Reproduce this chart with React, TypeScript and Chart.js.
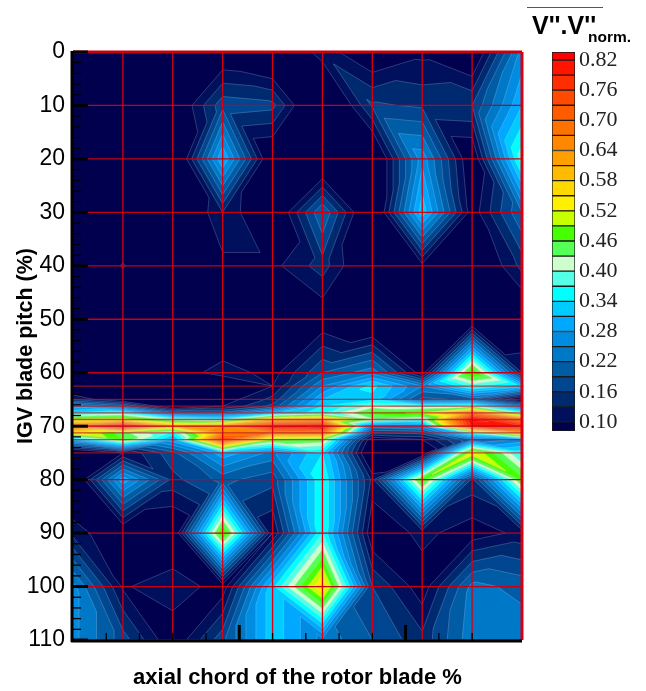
import React, { useEffect, useRef } from "react";
import { Chart, registerables } from "chart.js";

Chart.register(...registerables);

const chordCols = [0, 15, 30, 45, 60, 75, 90, 105, 120, 135];
const pitchRows = [0, 10, 20, 30, 40, 50, 60, 62.5, 65, 66.25, 67.5, 68.75, 70, 71.25, 72.5, 75, 80, 90, 100, 110];

const col0 = [.03, .03, .03, .03, .03, .03, .03, .04, .13, .26, .34, .50, .68, .55, .30, .03, .04, .12, .26, .26];
const col1 = [.03, .03, .03, .03, .104, .03, .03, .03, .06, .20, .37, .52, .83, .44, .46, .10, .30, .06, .095, .175];
const col2 = [.03, .05, .02, .03, .03, .03, .07, .02, .04, .05, .20, .40, .60, .36, .30, .18, .15, .05, .125, .07];
const col3 = [.06, .18, .31, .13, .09, .03, .12, .04, .08, .10, .20, .37, .64, .66, .76, .30, .20, .50, .08, .18];
const col4 = [.03, .17, .05, .045, .09, .03, .085, .10, .14, .17, .30, .58, .80, .67, .47, .24, .17, .10, .33, .33];
const col5 = [.12, .01, .03, .22, .145, .07, .19, .25, .31, .34, .36, .62, .83, .68, .45, .34, .37, .37, .56, .24];
const col6 = [.06, .165, .03, .03, .04, .03, .24, .35, .33, .41, .47, .42, .24, .16, .07, .03, .12, .07, .16, .19];
const col7 = [.09, .155, .27, .33, .09, .04, .08, .25, .18, .38, .50, .38, .26, .17, .10, .05, .48, .11, .08, .14];
const col8 = [.05, .16, .06, .08, .04, .04, .50, .38, .20, .40, .68, .83, .80, .38, .22, .53, .15, .08, .23, .24];
const col9 = [.26, .31, .39, .22, .14, .05, .13, .32, .05, .22, .38, .68, .80, .62, .26, .36, .47, .11, .21, .24];
const columns = [col0, col1, col2, col3, col4, col5, col6, col7, col8, col9];

const levels = [.10, .13, .16, .19, .22, .25, .28, .31, .34, .37, .40, .43, .46, .49, .52, .55, .58, .61, .64, .67, .70, .73, .76, .79, .82];
const bandColors = [
  "#00004e", "#00105c", "#002a70", "#004690", "#005ca4", "#0078c8", "#008ce0", "#00a8ff", "#00ccff",
  "#00ffff", "#55ffe6", "#ccffcc", "#55ff55", "#46ff00", "#c8ff00", "#fff000", "#ffd800", "#ffbb00",
  "#ffa000", "#ff8800", "#ff7200", "#ff5c00", "#ff4a00", "#ff2e00", "#ff1400", "#ff0000",
];
const colorbarTicks = [.10, .16, .22, .28, .34, .40, .46, .52, .58, .64, .70, .76, .82];
const colorbarMin = .082;
const colorbarMax = .836;

type P = { x: number; y: number; v: number };

function clipAbove(tri: P[], level: number): P[] {
  const out: P[] = [];
  for (let i = 0; i < tri.length; i++) {
    const a = tri[i];
    const b = tri[(i + 1) % tri.length];
    if (a.v >= level) out.push(a);
    if ((a.v >= level) !== (b.v >= level)) {
      const t = (level - a.v) / (b.v - a.v);
      out.push({ x: a.x + (b.x - a.x) * t, y: a.y + (b.y - a.y) * t, v: level });
    }
  }
  return out;
}

const contourPlugin = {
  id: "contourField",
  beforeDatasetsDraw(chart: any) {
    const { ctx, chartArea: area } = chart;
    const xs = chart.scales.x;
    const ys = chart.scales.y;
    const pts: { x: number; y: number; v: number }[] = chart.data.datasets[0].data;
    const nR = pitchRows.length;
    const node = (c: number, r: number): P => {
      const d = pts[c * nR + r];
      return { x: xs.getPixelForValue(d.x), y: ys.getPixelForValue(d.y), v: d.v };
    };
    const tris: P[][] = [];
    for (let c = 0; c < chordCols.length - 1; c++) {
      for (let r = 0; r < nR - 1; r++) {
        const a = node(c, r), b = node(c + 1, r), d = node(c + 1, r + 1), e = node(c, r + 1);
        if (Math.abs(a.v - d.v) <= Math.abs(b.v - e.v)) {
          tris.push([a, b, d], [a, d, e]);
        } else {
          tris.push([a, b, e], [b, d, e]);
        }
      }
    }
    ctx.save();
    ctx.beginPath();
    ctx.rect(area.left, area.top, area.right - area.left, area.bottom - area.top);
    ctx.clip();
    ctx.fillStyle = bandColors[0];
    ctx.fillRect(area.left, area.top, area.right - area.left, area.bottom - area.top);
    levels.forEach((lv, i) => {
      const color = bandColors[i + 1];
      ctx.fillStyle = color;
      ctx.strokeStyle = color;
      ctx.lineWidth = 0.6;
      ctx.beginPath();
      for (const t of tris) {
        const poly = clipAbove(t, lv);
        if (poly.length < 3) continue;
        poly.forEach((p, k) => (k ? ctx.lineTo(p.x, p.y) : ctx.moveTo(p.x, p.y)));
        ctx.closePath();
      }
      ctx.fill();
      ctx.stroke();
    });
    ctx.strokeStyle = "rgba(205,205,225,0.33)";
    ctx.lineWidth = 0.7;
    ctx.beginPath();
    for (const t of tris) {
      for (const lv of levels) {
        const cross: P[] = [];
        for (let i = 0; i < 3; i++) {
          const a = t[i], b = t[(i + 1) % 3];
          if ((a.v >= lv) !== (b.v >= lv)) {
            const k = (lv - a.v) / (b.v - a.v);
            cross.push({ x: a.x + (b.x - a.x) * k, y: a.y + (b.y - a.y) * k, v: lv });
          }
        }
        if (cross.length === 2) {
          ctx.moveTo(cross[0].x, cross[0].y);
          ctx.lineTo(cross[1].x, cross[1].y);
        }
      }
    }
    ctx.stroke();
    ctx.restore();

    // red mesh
    ctx.save();
    pitchRows.forEach((r) => {
      const y = ys.getPixelForValue(r);
      ctx.strokeStyle = r % 10 === 0 ? "#c80010" : "rgba(190,20,30,0.75)";
      ctx.lineWidth = r === 0 ? 3 : 1.3;
      ctx.beginPath();
      ctx.moveTo(area.left, y);
      ctx.lineTo(area.right, y);
      ctx.stroke();
    });
    chordCols.slice(1).forEach((c) => {
      const x = xs.getPixelForValue(c);
      ctx.strokeStyle = "#d80010";
      ctx.lineWidth = c === 135 ? 3 : 1.3;
      ctx.beginPath();
      ctx.moveTo(x, area.top);
      ctx.lineTo(x, area.bottom);
      ctx.stroke();
    });

    // axes and inward ticks
    ctx.strokeStyle = "#000";
    ctx.lineWidth = 3;
    ctx.beginPath();
    ctx.moveTo(area.left - 1, area.top - 1);
    ctx.lineTo(area.left - 1, area.bottom + 2);
    ctx.moveTo(area.left - 2, area.bottom + 1);
    ctx.lineTo(area.right, area.bottom + 1);
    ctx.stroke();
    ys.ticks.forEach((t: any) => {
      const y = ys.getPixelForValue(t.value);
      const major = t.value % 10 === 0;
      ctx.lineWidth = major ? 3 : 1.3;
      ctx.beginPath();
      ctx.moveTo(area.left, y);
      ctx.lineTo(area.left + (major ? 15 : 8), y);
      ctx.stroke();
    });
    xs.ticks.forEach((t: any) => {
      if (t.value % 10 !== 0 || t.value === 0) return;
      const x = xs.getPixelForValue(t.value);
      const major = t.value % 50 === 0;
      ctx.lineWidth = major ? 3 : 1.3;
      ctx.beginPath();
      ctx.moveTo(x, area.bottom);
      ctx.lineTo(x, area.bottom - (major ? 15 : 7));
      ctx.stroke();
    });
    ctx.restore();
  },
};

export default function App() {
  const mainRef = useRef<HTMLCanvasElement>(null);
  const barRef = useRef<HTMLCanvasElement>(null);

  useEffect(() => {
    const points: { x: number; y: number; v: number }[] = [];
    columns.forEach((col, c) => col.forEach((v, r) => points.push({ x: chordCols[c], y: pitchRows[r], v })));

    const main = new Chart(mainRef.current!, {
      type: "scatter",
      data: { datasets: [{ label: "V''.V''", data: points as any, pointRadius: 0, showLine: false }] },
      plugins: [contourPlugin],
      options: {
        animation: false,
        responsive: false,
        events: [],
        layout: { autoPadding: false, padding: { top: 52, right: 124, bottom: 0, left: 0 } },
        plugins: { legend: { display: false }, tooltip: { enabled: false } },
        scales: {
          x: {
            type: "linear",
            min: 0,
            max: 135,
            ticks: { display: false, stepSize: 10 },
            grid: { display: false },
            border: { display: false },
            title: {
              display: true,
              text: "axial chord of the rotor blade %",
              color: "#000",
              font: { family: "Liberation Sans", size: 22, weight: "bold" },
              padding: { top: 0, bottom: 0 },
            },
            afterFit: (s: any) => { s.height = 51; },
          },
          y: {
            type: "linear",
            reverse: true,
            min: 0,
            max: 110,
            ticks: {
              stepSize: 2,
              autoSkip: false,
              maxRotation: 0,
              padding: 8,
              color: "#000",
              font: { family: "Liberation Sans", size: 23 },
              callback: (v: any) => (Number(v) % 10 === 0 ? String(v) : ""),
            },
            grid: { display: false, drawTicks: false },
            border: { display: false },
            title: {
              display: true,
              text: "IGV blade pitch (%)",
              color: "#000",
              font: { family: "Liberation Sans", size: 21.5, weight: "bold" },
              padding: { top: 13, bottom: 0 },
            },
            afterFit: (s: any) => { s.width = 73; },
          },
        },
      } as any,
    });

    const edges = [colorbarMin, ...levels, colorbarMax];
    const bar = new Chart(barRef.current!, {
      type: "bar",
      data: {
        labels: ["V''.V''"],
        datasets: bandColors.map((color, i) => ({
          label: String(i),
          data: [[edges[i], edges[i + 1]]] as any,
          backgroundColor: color,
          borderColor: "#1a1a1a",
          borderWidth: 1,
          borderSkipped: false,
          grouped: false,
          barPercentage: 1,
          categoryPercentage: 1,
        })),
      },
      options: {
        animation: false,
        responsive: false,
        events: [],
        layout: { autoPadding: false, padding: { top: 52, right: 0, bottom: 260, left: 52 } },
        plugins: { legend: { display: false }, tooltip: { enabled: false } },
        scales: {
          x: {
            ticks: { display: false },
            grid: { display: false },
            border: { display: false },
            afterFit: (s: any) => { s.height = 0; },
          },
          y: {
            position: "right",
            min: colorbarMin,
            max: colorbarMax,
            afterBuildTicks: (s: any) => { s.ticks = colorbarTicks.map((value) => ({ value })); },
            ticks: {
              autoSkip: false,
              padding: 4,
              color: "#222",
              font: { family: "Liberation Serif", size: 22 },
              callback: (v: any) => Number(v).toFixed(2),
            },
            grid: { display: false, drawTicks: false },
            border: { display: false },
            afterFit: (s: any) => { s.width = 71; },
          },
        },
      } as any,
    });

    return () => {
      main.destroy();
      bar.destroy();
    };
  }, []);

  const sans = "'Liberation Sans', sans-serif";
  return (
    <div style={{ position: "absolute", left: 0, top: 0, width: 646, height: 691, background: "#fff", overflow: "hidden" }}>
      <canvas ref={mainRef} width={646} height={691} style={{ position: "absolute", left: 0, top: 0 }} />
      <canvas ref={barRef} width={146} height={691} style={{ position: "absolute", left: 500, top: 0 }} />
      <div style={{ position: "absolute", left: 527, top: 7, width: 76, height: 1, background: "#555" }} />
      <div style={{ position: "absolute", left: 532, top: 11, fontFamily: sans, fontWeight: "bold", fontSize: 25, lineHeight: "29px", color: "#000", whiteSpace: "nowrap" }}>V''.V''</div>
      <div style={{ position: "absolute", left: 588, top: 28, fontFamily: sans, fontWeight: "bold", fontSize: 15.5, lineHeight: "18px", color: "#000", whiteSpace: "nowrap" }}>norm.</div>
    </div>
  );
}
